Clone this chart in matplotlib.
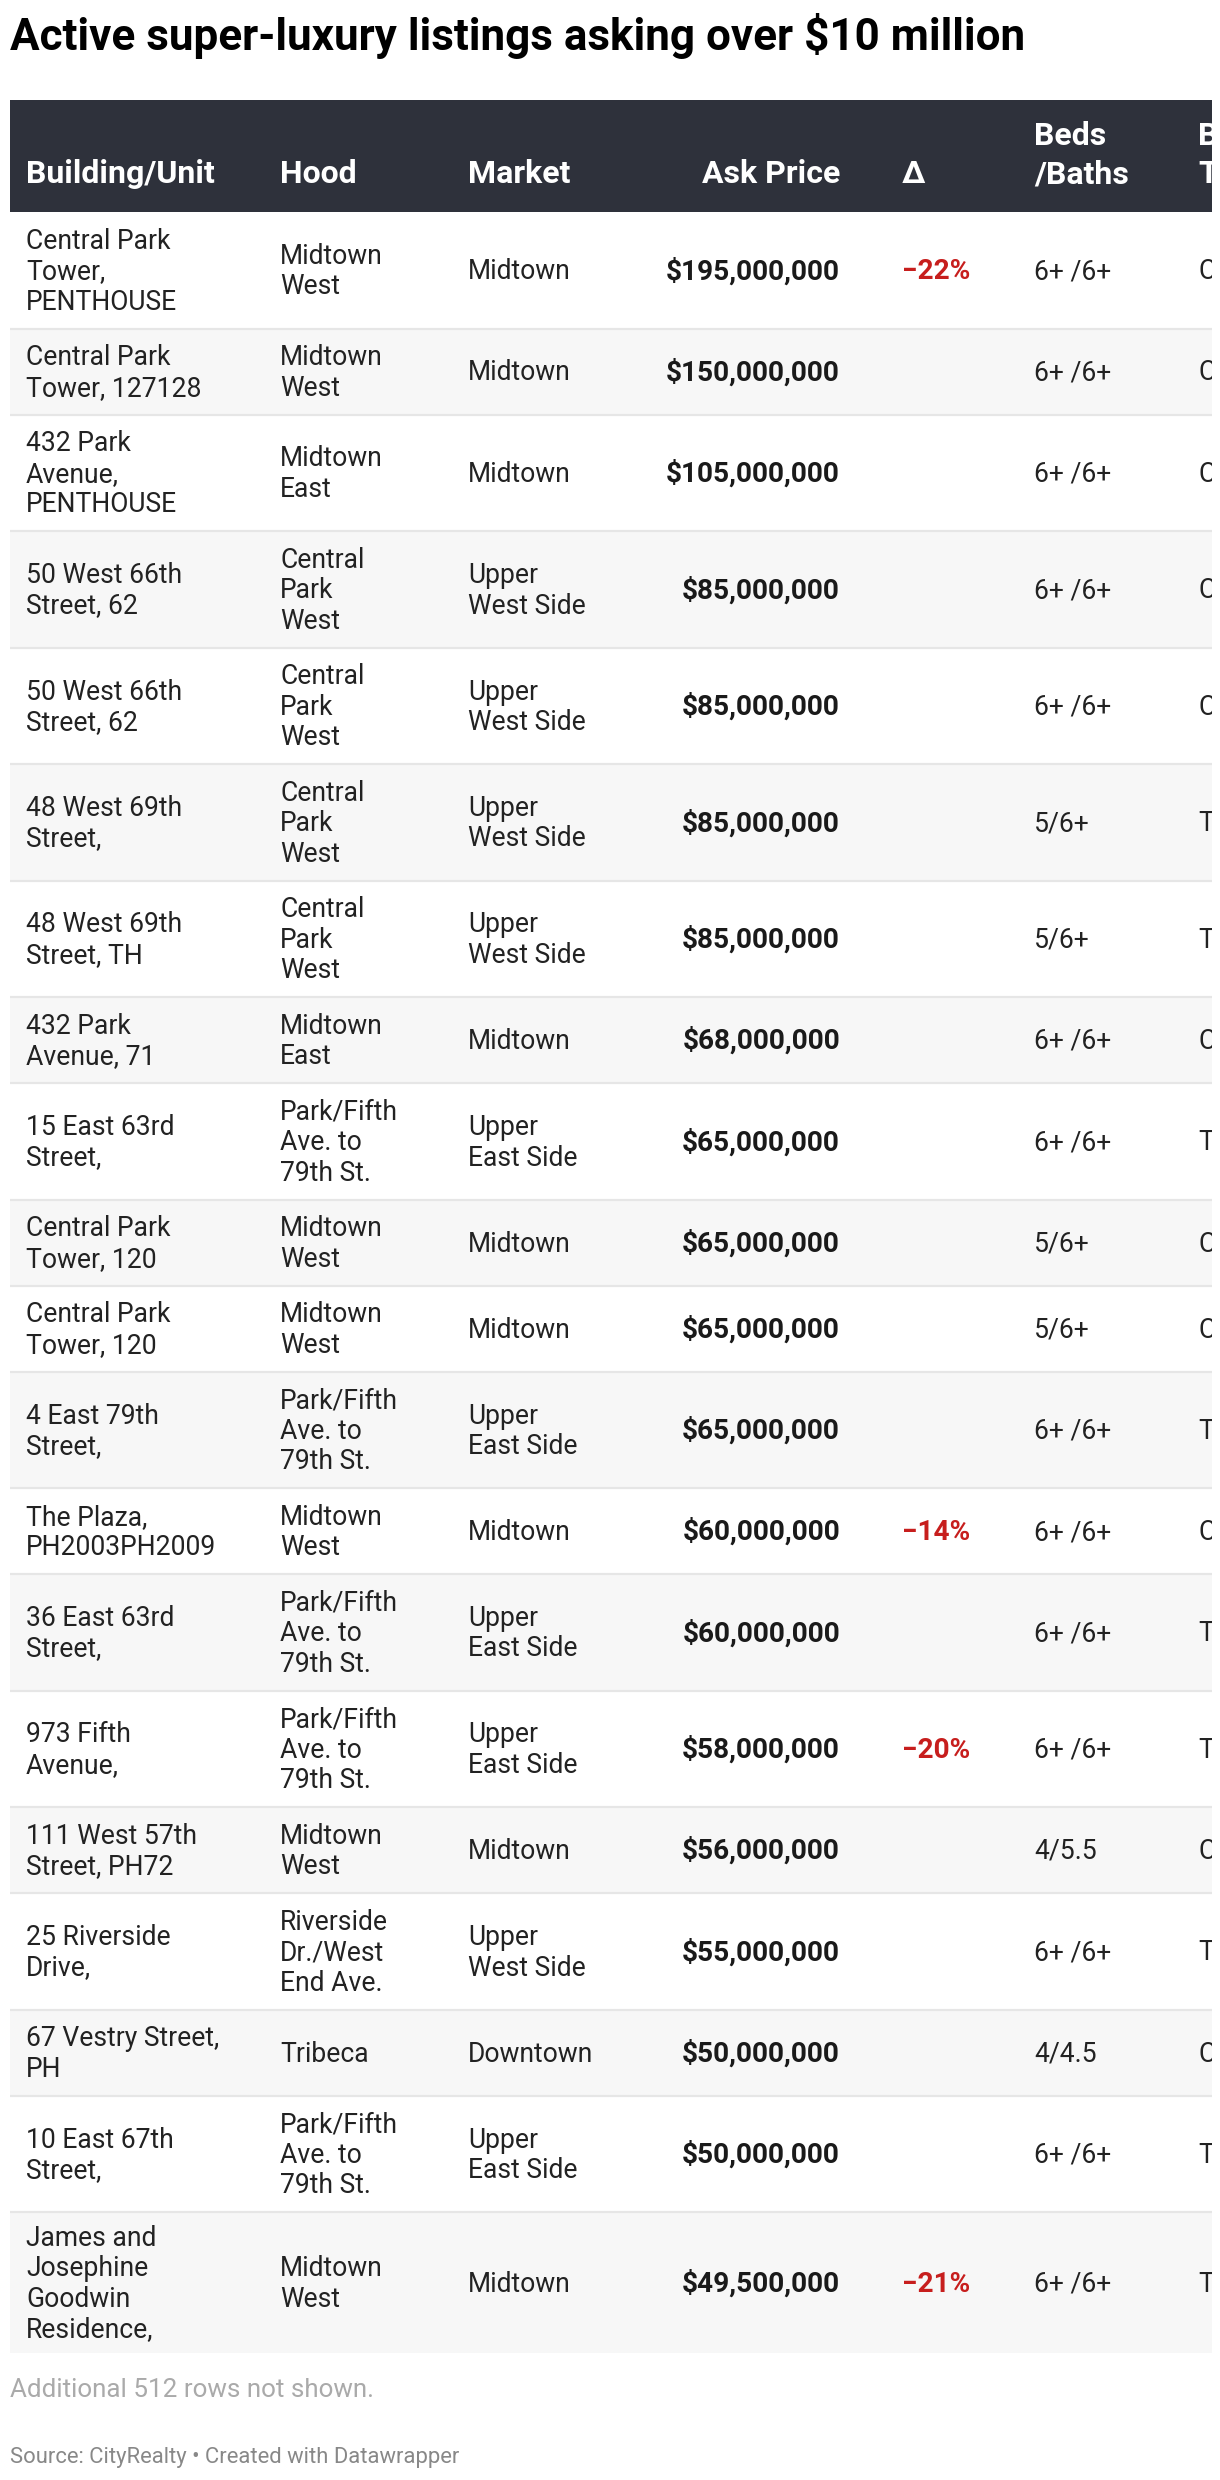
"""
Datawrapper-style table: active super-luxury listings asking over $10 million.
"""

import matplotlib.pyplot as plt
from matplotlib.patches import Rectangle

plt.rcParams["font.family"] = ["Roboto", "DejaVu Sans"]

# ---- data ---------------------------------------------------------------
buildings = [
    "Central Park\nTower,\nPENTHOUSE",
    "Central Park\nTower, 127128",
    "432 Park\nAvenue,\nPENTHOUSE",
    "50 West 66th\nStreet, 62",
    "50 West 66th\nStreet, 62",
    "48 West 69th\nStreet,",
    "48 West 69th\nStreet, TH",
    "432 Park\nAvenue, 71",
    "15 East 63rd\nStreet,",
    "Central Park\nTower, 120",
    "Central Park\nTower, 120",
    "4 East 79th\nStreet,",
    "The Plaza,\nPH2003PH2009",
    "36 East 63rd\nStreet,",
    "973 Fifth\nAvenue,",
    "111 West 57th\nStreet, PH72",
    "25 Riverside\nDrive,",
    "67 Vestry Street,\nPH",
    "10 East 67th\nStreet,",
    "James and\nJosephine\nGoodwin\nResidence,",
]
hoods = [
    "Midtown\nWest", "Midtown\nWest", "Midtown\nEast",
    "Central\nPark\nWest", "Central\nPark\nWest", "Central\nPark\nWest",
    "Central\nPark\nWest", "Midtown\nEast", "Park/Fifth\nAve. to\n79th St.",
    "Midtown\nWest", "Midtown\nWest", "Park/Fifth\nAve. to\n79th St.",
    "Midtown\nWest", "Park/Fifth\nAve. to\n79th St.",
    "Park/Fifth\nAve. to\n79th St.", "Midtown\nWest",
    "Riverside\nDr./West\nEnd Ave.", "Tribeca",
    "Park/Fifth\nAve. to\n79th St.", "Midtown\nWest",
]
markets = [
    "Midtown", "Midtown", "Midtown",
    "Upper\nWest Side", "Upper\nWest Side", "Upper\nWest Side", "Upper\nWest Side",
    "Midtown", "Upper\nEast Side", "Midtown", "Midtown", "Upper\nEast Side",
    "Midtown", "Upper\nEast Side", "Upper\nEast Side", "Midtown",
    "Upper\nWest Side", "Downtown", "Upper\nEast Side", "Midtown",
]
ask_prices = [
    195000000, 150000000, 105000000, 85000000, 85000000, 85000000, 85000000,
    68000000, 65000000, 65000000, 65000000, 65000000, 60000000, 60000000,
    58000000, 56000000, 55000000, 50000000, 50000000, 49500000,
]
deltas = [-22, None, None, None, None, None, None, None, None, None,
          None, None, -14, None, -20, None, None, None, None, -21]
beds_baths = [
    "6+ /6+", "6+ /6+", "6+ /6+", "6+ /6+", "6+ /6+", "5/6+", "5/6+",
    "6+ /6+", "6+ /6+", "5/6+", "5/6+", "6+ /6+", "6+ /6+", "6+ /6+",
    "6+ /6+", "4/5.5", "6+ /6+", "4/4.5", "6+ /6+", "6+ /6+",
]
bldg_types = [
    "Condo", "Condo", "Condo", "Condo", "Condo", "Townhouse", "Townhouse",
    "Condo", "Townhouse", "Condo", "Condo", "Townhouse", "Condo",
    "Townhouse", "Townhouse", "Condo", "Townhouse", "Condo", "Townhouse",
    "Townhouse",
]
headers = ["Building/Unit", "Hood", "Market", "Ask Price", "\u0394",
           "Beds\n/Baths", "Bldg\nType"]
hidden_rows = 512

# ---- style ----------------------------------------------------------------
W, H = 1220, 2480
TABLE_L, TABLE_R = 10, 1212
HEAD_TOP, HEAD_BOT = 100, 212
ROW_H = {1: 70, 2: 86, 3: 116.5, 4: 141}
LINE = 30.5
COL_X = [26, 280, 468, 840, 902, 1034, 1198]
COL_HA = ["left", "left", "left", "right", "left", "left", "left"]

HEAD_BG = "#2e313b"
STRIPE = "#f7f7f7"
SEP = "#e6e6e6"
TXT = "#222222"
RED = "#c71e1d"


def px(v):
    # pixel size -> points at dpi 100
    return v * 0.72


BODY_PT = px(26.5)
BOLD_PT = px(28)
HEAD_PT = px(32)

fig = plt.figure(figsize=(W / 100, H / 100), dpi=100)
ax = fig.add_axes([0, 0, TABLE_R / W, 1])
ax.set_xlim(0, TABLE_R)
ax.set_ylim(H, 0)
ax.axis("off")


def cell(x, yc, text, ha="left", color=TXT, weight="normal", size=BODY_PT):
    lines = text.split("\n")
    n = len(lines)
    for i, line in enumerate(lines):
        y = yc + 9 + (i - (n - 1) / 2) * LINE
        ax.text(x, y, line, ha=ha, va="baseline", fontsize=size,
                color=color, fontweight=weight, clip_on=True)


# title
ax.text(TABLE_L, 50, "Active super-luxury listings asking over $10 million",
        ha="left", va="baseline", fontsize=px(44), fontweight="bold",
        color="#000000")

# header band
ax.add_patch(Rectangle((TABLE_L, HEAD_TOP), TABLE_R - TABLE_L,
                       HEAD_BOT - HEAD_TOP, facecolor=HEAD_BG, edgecolor="none"))
for x, ha, label in zip(COL_X, COL_HA, headers):
    lines = label.split("\n")
    for i, line in enumerate(reversed(lines)):
        ax.text(x, 183 - i * 38, line, ha=ha, va="baseline", fontsize=HEAD_PT,
                fontweight="bold", color="white", clip_on=True)

# body rows
top = HEAD_BOT
for r in range(len(buildings)):
    cols = [buildings[r], hoods[r], markets[r]]
    n = max(c.count("\n") + 1 for c in cols)
    h = ROW_H[n]
    if r % 2 == 1:
        ax.add_patch(Rectangle((TABLE_L, top), TABLE_R - TABLE_L, h,
                               facecolor=STRIPE, edgecolor="none"))
    if r > 0:
        ax.plot([TABLE_L, TABLE_R], [top, top], color=SEP, lw=1.6,
                solid_capstyle="butt")
    yc = top + h / 2
    cell(COL_X[0], yc, buildings[r])
    cell(COL_X[1], yc, hoods[r])
    cell(COL_X[2], yc, markets[r])
    cell(COL_X[3], yc, "${:,}".format(ask_prices[r]), ha="right",
         color="#1a1a1a", weight="bold", size=BOLD_PT)
    if deltas[r] is not None:
        cell(COL_X[4], yc, "\u2212{}%".format(abs(deltas[r])), color=RED,
             weight="bold", size=BOLD_PT)
    cell(COL_X[5], yc, beds_baths[r])
    cell(COL_X[6], yc, bldg_types[r])
    top += h

# footer
ax.text(TABLE_L, 2397, "Additional {} rows not shown.".format(hidden_rows),
        ha="left", va="baseline", fontsize=px(26), color="#aaaaaa")
ax.text(TABLE_L, 2463, "Source: CityRealty \u2022 Created with Datawrapper",
        ha="left", va="baseline", fontsize=px(22), color="#888888")

fig.savefig("out.png", dpi=100, facecolor="white")
plt.close(fig)
